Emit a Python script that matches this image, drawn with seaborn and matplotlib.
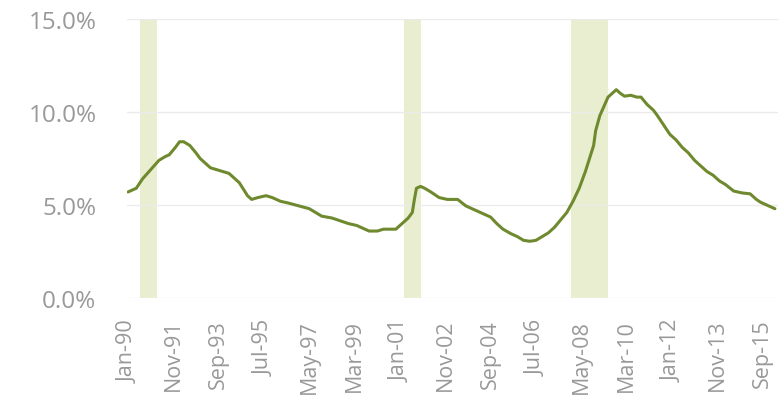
import matplotlib
matplotlib.use("Agg")
import matplotlib.pyplot as plt
import seaborn as sns
import pandas as pd

# Months since Jan-1990 and the rate (%)
months = [0, 4, 7, 11, 15, 18, 20, 23, 25, 27, 30, 33, 35, 38, 40, 43, 46, 49, 51, 54,
          58, 60, 63, 67, 70, 74, 78, 83, 88, 91, 94, 99, 103, 107, 111, 114, 117, 121,
          124, 127, 130, 133, 136, 138, 139, 140, 142, 144, 147, 151, 155, 160, 164, 168,
          171, 176, 179, 182, 186, 189, 192, 195, 198, 201, 204, 207, 210, 213, 216, 219,
          222, 224, 226, 227, 229, 231, 233, 235, 237, 239, 241, 244, 247, 249, 252, 255,
          257, 260, 263, 266, 269, 272, 275, 278, 281, 284, 287, 290, 294, 298, 302, 305,
          307, 310, 314]
rates = [5.7, 5.9, 6.4, 6.9, 7.4, 7.6, 7.7, 8.1, 8.4, 8.4, 8.2, 7.8, 7.5, 7.2, 7.0, 6.9,
         6.8, 6.7, 6.5, 6.2, 5.5, 5.3, 5.4, 5.5, 5.4, 5.2, 5.1, 4.95, 4.8, 4.6, 4.4, 4.3,
         4.15, 4.0, 3.9, 3.75, 3.6, 3.6, 3.7, 3.7, 3.7, 4.0, 4.3, 4.6, 5.3, 5.9, 6.0, 5.9,
         5.7, 5.4, 5.3, 5.3, 4.95, 4.75, 4.6, 4.35, 4.0, 3.7, 3.45, 3.3, 3.1, 3.05, 3.1,
         3.3, 3.5, 3.8, 4.2, 4.6, 5.2, 5.9, 6.8, 7.5, 8.2, 9.0, 9.8, 10.3, 10.8, 11.0, 11.2,
         11.0, 10.85, 10.9, 10.8, 10.8, 10.4, 10.1, 9.8, 9.3, 8.8, 8.5, 8.1, 7.8, 7.4, 7.1,
         6.8, 6.6, 6.3, 6.1, 5.75, 5.65, 5.6, 5.3, 5.15, 5.0, 4.8]

# Recession periods (months since Jan-1990)
recession_start = [6, 134, 215]
recession_end = [14, 142, 233]

tick_months = [0, 22, 44, 66, 88, 110, 132, 154, 176, 198, 220, 242, 264, 286, 308]
tick_labels = ["Jan-90", "Nov-91", "Sep-93", "Jul-95", "May-97", "Mar-99", "Jan-01",
               "Nov-02", "Sep-04", "Jul-06", "May-08", "Mar-10", "Jan-12", "Nov-13", "Sep-15"]
y_ticks = [0, 5, 10, 15]
y_labels = ["0.0%", "5.0%", "10.0%", "15.0%"]

sns.set_theme(style="white")
plt.rcParams["font.family"] = ["Open Sans", "DejaVu Sans"]

df = pd.DataFrame({"month": months, "rate": rates})

fig = plt.figure(figsize=(7.84, 4.06), dpi=100)
ax = fig.add_axes([127 / 784, 1 - 299 / 406, (778 - 127) / 784, (299 - 20) / 406])

for s, e in zip(recession_start, recession_end):
    ax.axvspan(s, e, color="#e6edca", alpha=0.9, lw=0, zorder=0)

for yv in y_ticks:
    ax.axhline(yv, color="#ebebeb", lw=1.0, zorder=1)

sns.lineplot(data=df, x="month", y="rate", ax=ax, color="#6f8a2e", lw=2.2, zorder=3)

ax.set_xlim(-0.5, 315.5)
ax.set_ylim(0, 15)
ax.set_xticks(tick_months)
ax.set_xticklabels(tick_labels, rotation=90, fontsize=15.5, color="#999999")
ax.set_yticks(y_ticks)
ax.set_yticklabels(y_labels, fontsize=17.5, color="#999999")
ax.tick_params(axis="x", length=0, pad=15)
ax.tick_params(axis="y", length=0, pad=22)
ax.set_xlabel("")
ax.set_ylabel("")
for sp in ax.spines.values():
    sp.set_visible(False)

fig.savefig("out.png", dpi=100, facecolor="white")
